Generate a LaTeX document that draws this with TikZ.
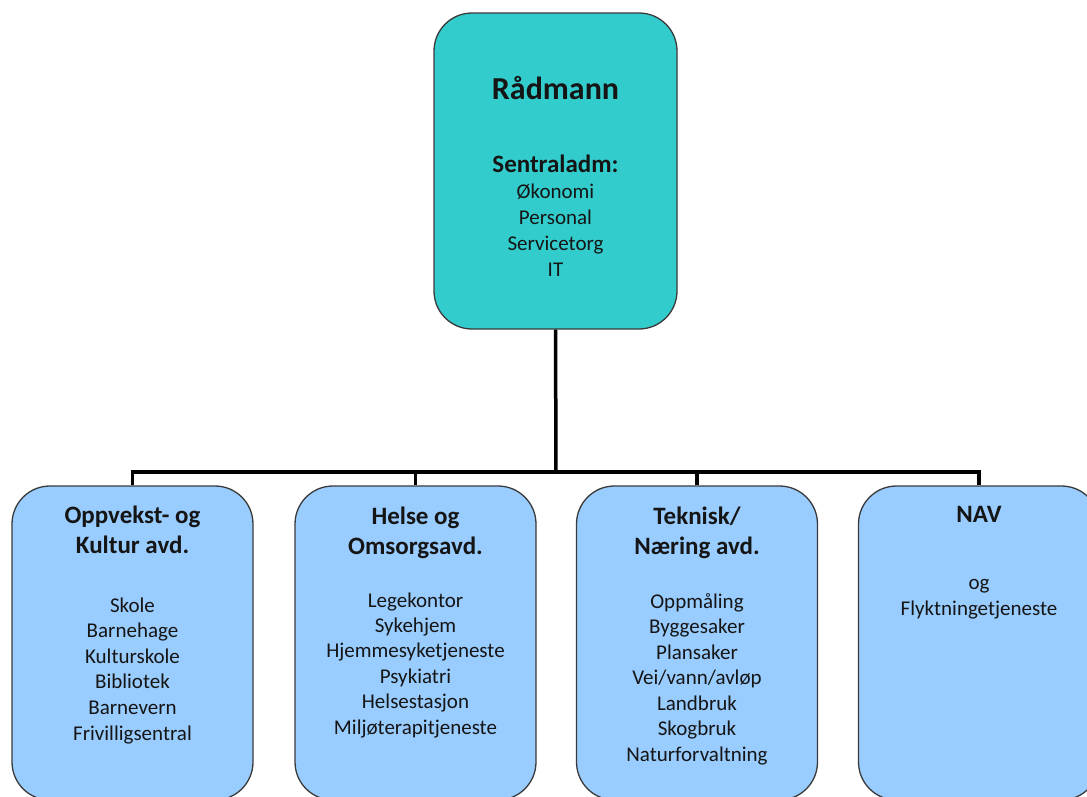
\documentclass[tikz,border=0pt]{standalone}
\usepackage{fontspec}
\setmainfont{Carlito}
\definecolor{tealfill}{HTML}{33CCCC}
\definecolor{bluefill}{HTML}{99CCFF}
\definecolor{edgecol}{HTML}{3A3A3A}
\definecolor{txtcol}{HTML}{151515}
\newcommand\linesof[3]{{\fontsize{#1}{#2}\selectfont\begin{tabular}[t]{@{}c@{}}#3\end{tabular}}}
\begin{document}
\begin{tikzpicture}[x=1pt,y=-1pt,
  box/.style={draw=edgecol, line width=1.3pt, rounded corners=38pt, inner sep=0pt,
    minimum width=241pt, minimum height=314pt, fill=bluefill},
  topbox/.style={box, fill=tealfill, minimum width=243pt, minimum height=316pt},
  conn/.style={line width=3.5pt, black},
  label/.style={anchor=base, inner sep=0pt, text=txtcol}]
\useasboundingbox (0,0) rectangle (1087,796);
\clip (0,0) rectangle (1087,796);
% boxes
\node[topbox] (top) at (555.5,171) {};
\node[box] (b1) at (132.5,643) {};
\node[box] (b2) at (415.5,643) {};
\node[box] (b3) at (697,643) {};
\node[box] (b4) at (979,643) {};
% connectors
\coordinate (bar) at (556,472);
\draw[conn] (top.south) -- (bar);
\draw[conn] (b1.north) |- (bar) -| (b4.north);
\draw[conn] (b2.north) -- (b2.north |- bar);
\draw[conn] (b3.north) -- (b3.north |- bar);
% top text
\node[label] (t0) at (555.5,99) {\fontsize{32}{38}\selectfont\bfseries Rådmann};
\node[label] (t0h) at (555.5,172) {\fontsize{25}{30}\selectfont\bfseries Sentraladm:};
\node[label] (t0l) at (555.5,198) {\linesof{21}{26}{Økonomi\\Personal\\Servicetorg\\IT}};
% box 1
\node[label] (t1h) at (132.5,523) {\linesof{25}{30}{\bfseries Oppvekst- og\\\bfseries Kultur avd.}};
\node[label] (t1l) at (132.5,612) {\linesof{21}{25.6}{Skole\\Barnehage\\Kulturskole\\Bibliotek\\Barnevern\\Frivilligsentral}};
% box 2
\node[label] (t2h) at (415.5,524) {\linesof{25}{30}{\bfseries Helse og\\\bfseries Omsorgsavd.}};
\node[label] (t2l) at (415.5,607) {\linesof{21}{25.4}{Legekontor\\Sykehjem\\Hjemmesyketjeneste\\Psykiatri\\Helsestasjon\\Miljøterapitjeneste}};
% box 3
\node[label] (t3h) at (697,524) {\linesof{25}{30}{\bfseries Teknisk/\\\bfseries Næring avd.}};
\node[label] (t3l) at (697,608) {\linesof{21}{25.5}{Oppmåling\\Byggesaker\\Plansaker\\Vei/vann/avløp\\Landbruk\\Skogbruk\\Naturforvaltning}};
% box 4
\node[label] (t4h) at (979,522) {\fontsize{25}{30}\selectfont\bfseries NAV};
\node[label] (t4l) at (979,589) {\linesof{21}{26}{og\\Flyktningetjeneste}};
\end{tikzpicture}
\end{document}
